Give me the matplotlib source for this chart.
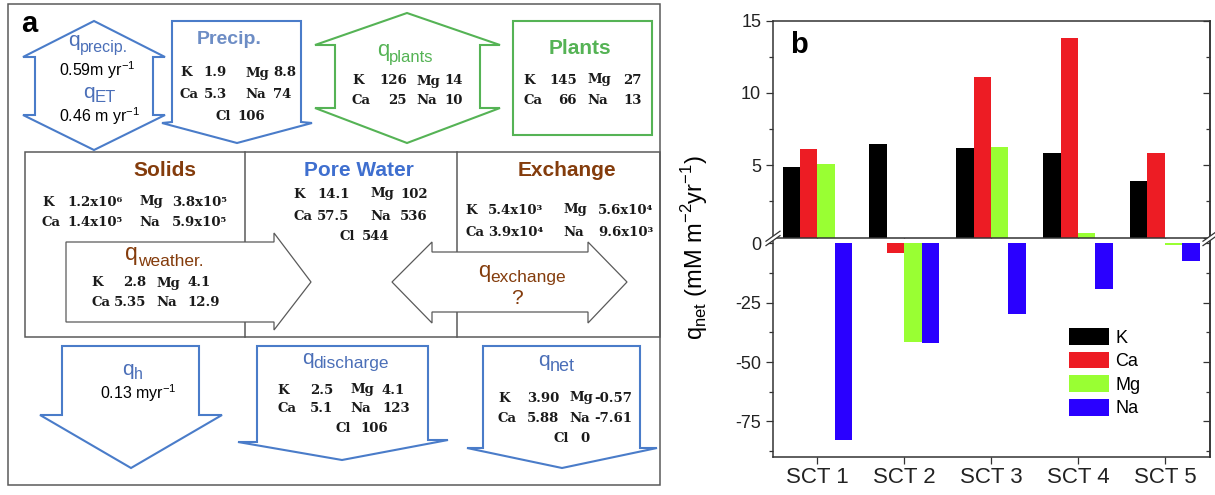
import numpy as np
import matplotlib
matplotlib.use('Agg')
import matplotlib.pyplot as plt
from matplotlib.patches import Polygon, Rectangle
from matplotlib.ticker import FixedLocator

plt.rcParams['font.family'] = ['Liberation Sans', 'DejaVu Sans']
plt.rcParams['axes.unicode_minus'] = False

# ---- panel b data: q_net per site ----
sites = ['SCT 1', 'SCT 2', 'SCT 3', 'SCT 4', 'SCT 5']
ions = ['K', 'Ca', 'Mg', 'Na']
k_net = [4.85, 6.45, 6.22, 5.87, 3.90]
ca_net = [6.10, -4.2, 11.10, 13.80, 5.88]
mg_net = [5.06, -41.7, 6.29, 0.32, -0.57]
na_net = [-82.8, -42.1, -29.9, -19.4, -7.61]
ion_colors = ['#000000', '#ed1c24', '#99ff33', '#2a00ff']

# ---- panel a tables ----
precip_rows = [['K', '1.9', 'Mg', '8.8'], ['Ca', '5.3', 'Na', '74']]
precip_cl = '106'
plant_flux_rows = [['K', '126', 'Mg', '14'], ['Ca', '25', 'Na', '10']]
plant_rows = [['K', '145', 'Mg', '27'], ['Ca', '66', 'Na', '13']]
solid_rows = [['K', '1.2x10⁶', 'Mg', '3.8x10⁵'], ['Ca', '1.4x10⁵', 'Na', '5.9x10⁵']]
pore_rows = [['K', '14.1', 'Mg', '102'], ['Ca', '57.5', 'Na', '536']]
pore_cl = '544'
exch_rows = [['K', '5.4x10³', 'Mg', '5.6x10⁴'], ['Ca', '3.9x10⁴', 'Na', '9.6x10³']]
weather_rows = [['K', '2.8', 'Mg', '4.1'], ['Ca', '5.35', 'Na', '12.9']]
discharge_rows = [['K', '2.5', 'Mg', '4.1'], ['Ca', '5.1', 'Na', '123']]
discharge_cl = '106'
qnet_rows = [['K', '3.90', 'Mg', '-0.57'], ['Ca', '5.88', 'Na', '-7.61']]
qnet_cl = '0'

BLUE = '#4a7cc9'
BLUE_T = '#4b6fb8'
GREEN = '#55b355'
BROWN = '#843c0c'
GRAY = '#5a5a5a'
INK = '#1a1a1a'

fig = plt.figure(figsize=(12.15, 4.95), dpi=100)

# panel a is drawn in pixel coordinates
ax_a = fig.add_axes([0, 0, 1, 1])
ax_a.set_xlim(0, 1215)
ax_a.set_ylim(495, 0)
ax_a.axis('off')


def shape(pts, ec, lw):
    ax_a.add_patch(Polygon(pts, closed=True, fc='white', ec=ec, lw=lw,
                           joinstyle='miter', zorder=3))


VAL = dict(family=['DejaVu Serif', 'DejaVu Sans'], weight='bold',
           fontsize=9.5, color=INK, va='center', zorder=4)


def table(rows, xs, aligns, ys):
    for row, y in zip(rows, ys):
        for tok, x, ha in zip(row, xs, aligns):
            ax_a.text(x, y, tok, ha=ha, **VAL)


def cl_row(val, x_cl, x_val, y):
    ax_a.text(x_cl, y, 'Cl', ha='left', **VAL)
    ax_a.text(x_val, y, val, ha='left', **VAL)


def qlabel(x, yb, sub, color, qs=15, ss=11.5, drop=6):
    ax_a.text(x, yb, 'q', ha='left', va='baseline', fontsize=qs, color=color,
              zorder=4)
    ax_a.text(x + 0.556 * qs / 0.72, yb + drop, sub, ha='left', va='baseline',
              fontsize=ss, color=color, zorder=4)


def heading(x, y, s, color, size=15):
    ax_a.text(x, y, s, ha='center', va='center', fontsize=size,
              fontweight='bold', color=color, zorder=4)


RATE = dict(fontsize=11.5, color='black', va='center', ha='left', zorder=4)

# outer frame and middle row
ax_a.add_patch(Rectangle((8, 4), 652, 481, fc='none', ec=GRAY, lw=1.1, zorder=1))
ax_a.add_patch(Rectangle((25, 152), 635, 185, fc='none', ec=GRAY, lw=1.1, zorder=1))
ax_a.plot([245, 245], [152, 337], color=GRAY, lw=1.1, zorder=1)
ax_a.plot([457, 457], [152, 337], color=GRAY, lw=1.1, zorder=1)

ax_a.text(21, 32, 'a', fontsize=21, fontweight='bold', va='baseline')

# precipitation / ET double arrow
shape([(94, 21), (165, 57), (153, 57), (153, 115), (165, 115), (94, 150),
       (23, 115), (35, 115), (35, 57), (23, 57)], BLUE, 1.5)
qlabel(68, 46, 'precip.', BLUE_T)
ax_a.text(59, 70.5, r'0.59m yr$^{\mathregular{-1}}$', **RATE)
qlabel(83, 98, 'ET', BLUE_T, ss=12, drop=4)
ax_a.text(59, 116, r'0.46 m yr$^{\mathregular{-1}}$', **RATE)

# precip box
shape([(172, 21), (301, 21), (301, 122), (312, 123), (237, 143), (162, 123),
       (172, 122)], BLUE, 1.5)
heading(229, 40, 'Precip.', '#6d8dc5', 14)
table(precip_rows, [180, 227, 245, 273], ['left', 'right', 'left', 'left'], [73, 94])
cl_row(precip_cl, 216, 237, 117)

# plant uptake double arrow
shape([(407, 13), (500, 45), (480, 45), (480, 108), (500, 108), (407, 143),
       (315, 108), (335, 108), (335, 45), (315, 45)], GREEN, 1.5)
qlabel(377, 56, 'plants', GREEN, qs=16, ss=12)
table(plant_flux_rows, [352, 407, 416, 463], ['left', 'right', 'left', 'right'], [81, 100])

# plants box
ax_a.add_patch(Rectangle((513, 21), 139, 114, fc='white', ec=GREEN, lw=1.5, zorder=3))
heading(580, 48, 'Plants', GREEN)
table(plant_rows, [523, 577, 587, 642], ['left', 'right', 'left', 'right'], [80, 100])

# solids / pore water / exchange
heading(165, 170, 'Solids', BROWN)
table(solid_rows, [42, 67, 139, 172], ['left'] * 4, [202, 223])
heading(359, 170, 'Pore Water', '#3f6fcf')
table(pore_rows, [293, 317, 370, 400], ['left'] * 4, [194, 216])
cl_row(pore_cl, 340, 362, 237)
heading(567, 170, 'Exchange', BROWN)
table(exch_rows, [465, 488, 563, 598], ['left'] * 4, [210, 232])

# weathering arrow
shape([(66, 242), (274, 242), (274, 233), (311, 282), (274, 330), (274, 322),
       (66, 322)], GRAY, 0.9)
qlabel(125, 260, 'weather.', BROWN, qs=16.5, ss=12.5)
table(weather_rows, [91, 146, 156, 187], ['left', 'right', 'left', 'left'], [283, 303])

# exchange double arrow
shape([(392, 282), (432, 242), (432, 252), (588, 252), (588, 242), (627, 282),
       (588, 323), (588, 312), (432, 312), (432, 323)], GRAY, 0.9)
qlabel(478, 277, 'exchange', BROWN, qs=16, ss=12.5, drop=5)
ax_a.text(517, 298, '?', fontsize=15, color=BROWN, ha='center', va='center',
          zorder=4)

# hydraulic flux arrow
shape([(62, 346), (199, 346), (199, 415), (222, 415), (131, 468), (40, 415),
       (62, 415)], BLUE, 1.5)
qlabel(122, 375, 'h', BLUE_T, qs=15, ss=11.5, drop=4)
ax_a.text(100, 393, r'0.13 myr$^{\mathregular{-1}}$', **RATE)

# discharge box
shape([(257, 346), (428, 346), (428, 440), (448, 440), (342, 460), (238, 442),
       (257, 442)], BLUE, 1.5)
qlabel(302, 364, 'discharge', BLUE_T, qs=15, ss=12.5, drop=4)
table(discharge_rows, [277, 310, 350, 382], ['left'] * 4, [390, 409])
cl_row(discharge_cl, 335, 360, 428)

# net flux box
shape([(483, 346), (640, 346), (640, 448), (657, 448), (562, 468), (467, 448),
       (483, 448)], BLUE, 1.5)
qlabel(538, 366, 'net', BLUE_T, qs=15, ss=13, drop=5)
table(qnet_rows, [498, 527, 569, 594], ['left'] * 4, [398, 418])
cl_row(qnet_cl, 553, 580, 438)

# ---- panel b: broken-axis bar chart ----
W, H = 1215.0, 495.0
left_px, right_px = 773, 1210
up_top, up_bot = 20.7, 237.5
lo_top, lo_bot = 239.3, 457.3
ax_u = fig.add_axes([left_px / W, 1 - up_bot / H, (right_px - left_px) / W,
                     (up_bot - up_top) / H])
ax_l = fig.add_axes([left_px / W, 1 - lo_bot / H, (right_px - left_px) / W,
                     (lo_bot - lo_top) / H])

x = np.arange(1, len(sites) + 1)
offsets = [-0.3, -0.1, 0.1, 0.3]
series = [k_net, ca_net, mg_net, na_net]
for vals, col, off, name in zip(series, ion_colors, offsets, ions):
    vals = np.array(vals)
    ax_u.bar(x + off, np.maximum(vals, 0), 0.2, color=col, linewidth=0)
    ax_l.bar(x + off, np.minimum(vals, 0), 0.2, color=col, linewidth=0, label=name)

SP = '#333333'
for ax in (ax_u, ax_l):
    ax.set_xlim(0.49, 5.52)
    for s in ax.spines.values():
        s.set_color(SP)
        s.set_linewidth(1.1)
    ax.tick_params(axis='both', which='both', direction='out', width=0.9,
                   colors=SP, labelcolor='#222222', labelsize=13)
    ax.tick_params(which='major', length=5)
    ax.tick_params(which='minor', length=3)
    ax.set_xticks(x)

ax_u.set_ylim(0, 15)
ax_u.set_yticks([5, 10, 15])
ax_u.yaxis.set_minor_locator(FixedLocator([2.5, 7.5, 12.5]))
ax_u.tick_params(axis='x', labelbottom=False, length=4)

ax_l.set_ylim(-90.1, 1.7)
ax_l.set_yticks([0, -25, -50, -75])
ax_l.yaxis.set_minor_locator(FixedLocator([-12.5, -37.5, -62.5, -87.5]))
ax_l.spines['top'].set_visible(False)
ax_l.set_xticklabels(sites, fontsize=16)
ax_l.tick_params(axis='x', pad=2)

# right-hand ticks point inward
for ax, major, minor in ((ax_u, [0, 5, 10, 15], [2.5, 7.5, 12.5]),
                         (ax_l, [0, -25, -50, -75], [-12.5, -37.5, -62.5, -87.5])):
    sec = ax.secondary_yaxis('right')
    sec.set_yticks(major)
    sec.yaxis.set_minor_locator(FixedLocator(minor))
    sec.tick_params(which='both', direction='in', labelright=False, colors=SP, width=0.9)
    sec.tick_params(which='major', length=5)
    sec.tick_params(which='minor', length=3)
    sec.spines['right'].set_color(SP)
    sec.spines['right'].set_linewidth(1.1)

ax_u.text(790, 53, 'b', transform=ax_a.transData, fontsize=21,
          fontweight='bold', va='baseline')

ax_l.legend(loc='upper left', bbox_to_anchor=(1069, 328),
            bbox_transform=ax_a.transData, frameon=False, fontsize=13,
            handlelength=2.2, handleheight=1.05, handletextpad=0.35,
            labelspacing=0.28, borderpad=0, borderaxespad=0)

fig.text(695 / W, 1 - 248 / H,
         r'q$_{\mathregular{net}}$ (mM m$^{\mathregular{-2}}$yr$^{\mathregular{-1}}$)',
         rotation=90, ha='center', va='center', fontsize=17)

# axis-break marks
for xb in (left_px, right_px):
    yb = 238.4
    gap = 2.2
    fig.add_artist(Polygon([(xb - 7, yb + 5 - gap), (xb + 7, yb - 5 - gap),
                            (xb + 7, yb - 5 + gap), (xb - 7, yb + 5 + gap)],
                           closed=True, fc='white', ec='none',
                           transform=ax_a.transData, zorder=5))
    for g in (-gap, gap):
        fig.add_artist(plt.Line2D([xb - 7, xb + 7], [yb + 5 + g, yb - 5 + g],
                                  color=SP, lw=0.9, transform=ax_a.transData,
                                  zorder=6))

fig.savefig('out.png', dpi=100, facecolor='white')
